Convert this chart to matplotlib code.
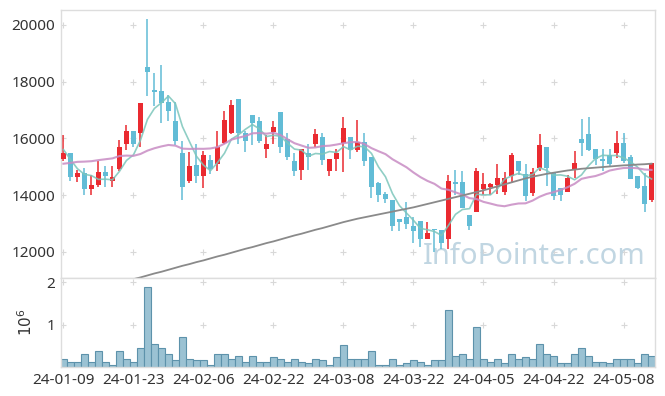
import matplotlib
matplotlib.use("Agg")
import matplotlib.pyplot as plt
import numpy as np
import pandas as pd

plt.rcParams['font.family'] = ['Noto Sans', 'DejaVu Sans']

# daily prices, 24-01-09 .. 24-05-14
opens = [15270, 15470, 14640, 14770, 14220, 14360, 14800, 14500, 14910, 15790,
         16270, 16180, 18500, 17700, 17680, 17280, 16620, 15490, 14490, 15080,
         14680, 15250, 15100, 15840, 16180, 17390, 16200, 16820, 16620, 15630,
         16240, 16930, 15990, 15190, 14890, 15470, 15790, 16060, 14840, 15260,
         15840, 16060, 15590, 15880, 15360, 14430, 14040, 13830, 13160, 13230,
         12920, 13090, 12440, 12800, 12780, 12440, 14460, 14460, 13290, 13420,
         14210, 14300, 14360, 14120, 14680, 15220, 14740, 14080, 14970, 15710,
         14770, 14250, 14120, 14910, 15990, 16170, 15610, 15290, 15420, 15470,
         15850, 15360, 14680, 14320, 13830]
highs = [16120, 15480, 14900, 14960, 14700, 15200, 15010, 15010, 15960, 16480,
         16270, 17250, 20220, 18300, 18580, 17530, 17280, 15900, 15510, 15790,
         15570, 15410, 16260, 16970, 17350, 17390, 16250, 16820, 16740, 16130,
         16620, 16930, 16190, 15470, 15630, 15790, 16340, 16190, 15290, 15610,
         16770, 16060, 16660, 16190, 15360, 14480, 14120, 13830, 13160, 13750,
         13230, 13090, 13050, 12800, 12780, 14720, 14900, 14860, 13290, 14970,
         14790, 14440, 15110, 14820, 15470, 15220, 15110, 14970, 16160, 15710,
         14770, 14250, 14710, 15560, 16690, 16750, 15610, 15610, 15610, 16260,
         16190, 15420, 14680, 14790, 15140]
lows = [15200, 14500, 14480, 13990, 13990, 14270, 14300, 14300, 14840, 15600,
        15710, 15700, 17480, 17160, 16560, 16600, 15780, 13820, 14440, 14440,
        14240, 14760, 14850, 15790, 16140, 15790, 15530, 15770, 15850, 15320,
        15790, 15490, 15240, 14680, 14540, 14890, 15690, 15060, 14670, 14860,
        14830, 15290, 15510, 15010, 13900, 13750, 13730, 12730, 12730, 12810,
        12300, 12170, 12440, 12000, 12100, 12090, 14010, 13540, 12780, 13420,
        14000, 14000, 14040, 14000, 14440, 14710, 13800, 13960, 14860, 14340,
        13820, 13800, 14120, 14600, 15380, 15570, 15060, 14860, 15030, 15310,
        15140, 14570, 14210, 13410, 13750]
closes = [15470, 14640, 14770, 14220, 14350, 14800, 14680, 14650, 15710, 16270,
          15790, 17250, 18330, 17650, 17260, 16980, 15900, 14290, 15010, 14680,
          15420, 14910, 15710, 16660, 17170, 16180, 15900, 16530, 15900, 15820,
          16410, 15710, 15340, 14840, 15630, 15360, 16170, 15240, 15290, 15470,
          16380, 15600, 15880, 15200, 14290, 14010, 13860, 12920, 13070, 12990,
          12720, 12440, 12680, 12760, 12300, 14490, 14390, 13540, 12900, 14840,
          14390, 14390, 14600, 14600, 15410, 14840, 13960, 14830, 15780, 14970,
          13980, 14010, 14600, 15150, 15830, 15600, 15260, 15190, 15090, 15850,
          15190, 14570, 14250, 13700, 15140]
# closes before the window (for the moving averages)
pre_closes = [14050, 14050, 14050, 14050, 14050, 14050, 14050, 14050,
              15960, 15960, 15960, 15960, 15960, 15960, 15960,
              16390, 16400, 15210, 14570]
# long moving average
ma_long = [10370, 10440, 10500, 10570, 10640, 10700, 10770, 10840, 10900, 10970,
           11040, 11100, 11170, 11240, 11300, 11370, 11440, 11510, 11570, 11640,
           11700, 11770, 11840, 11900, 11970, 12040, 12110, 12170, 12240, 12310,
           12370, 12440, 12510, 12580, 12640, 12710, 12780, 12840, 12910, 12980,
           13050, 13110, 13170, 13220, 13270, 13320, 13370, 13420, 13470, 13520,
           13570, 13630, 13690, 13750, 13810, 13870, 13930, 13990, 14050, 14110,
           14170, 14240, 14310, 14380, 14450, 14520, 14590, 14650, 14700, 14750,
           14790, 14830, 14870, 14900, 14930, 14950, 14970, 14990, 15010, 15030,
           15050, 15060, 15080, 15090, 15110]
volumes = [0.18, 0.13, 0.12, 0.32, 0.11, 0.39, 0.11, 0.06, 0.39, 0.20,
           0.11, 0.46, 1.89, 0.55, 0.46, 0.30, 0.16, 0.70, 0.20, 0.16,
           0.16, 0.06, 0.30, 0.32, 0.18, 0.27, 0.13, 0.27, 0.11, 0.13,
           0.23, 0.18, 0.11, 0.18, 0.11, 0.09, 0.20, 0.16, 0.06, 0.23,
           0.51, 0.20, 0.20, 0.20, 0.37, 0.06, 0.06, 0.20, 0.06, 0.09,
           0.16, 0.11, 0.06, 0.16, 0.16, 1.35, 0.27, 0.32, 0.18, 0.95,
           0.20, 0.13, 0.20, 0.09, 0.30, 0.20, 0.23, 0.18, 0.55, 0.30,
           0.25, 0.09, 0.09, 0.32, 0.44, 0.25, 0.11, 0.13, 0.09, 0.20,
           0.18, 0.18, 0.09, 0.30, 0.25]
tick_labels = ['24-01-09', '24-01-23', '24-02-06', '24-02-22', '24-03-08',
               '24-03-22', '24-04-05', '24-04-22', '24-05-08']

UP = '#ea2a30'
DOWN = '#62bcd6'

n = len(closes)
x = np.arange(n)
o = np.array(opens)
c = np.array(closes)
all_c = pd.Series(pre_closes + closes)
ma5 = all_c.rolling(5).mean().values[-n:]
ma20 = all_c.rolling(20).mean().values[-n:]

fig = plt.figure(figsize=(6.65, 3.96), dpi=100)
ax = fig.add_axes([0.0917, 0.298, 0.8933, 0.677])
axv = fig.add_axes([0.0917, 0.073, 0.8933, 0.225], sharex=ax)

colors = np.where(c >= o, UP, DOWN)
ax.vlines(x, lows, highs, colors=colors, linewidth=1.1, zorder=2)
ax.bar(x, np.maximum(np.abs(c - o), 25), bottom=np.minimum(o, c), width=0.72,
       color=colors, zorder=3)

ax.plot(x, ma5, color='#7cc6bb', lw=1.2, alpha=0.85, zorder=4)
ax.plot(x, ma20, color='#c88cc4', lw=1.5, alpha=0.85, zorder=4)
ax.plot(x, ma_long, color='#8a8a8a', lw=1.3, zorder=4)

ax.text(0.985, 0.025, 'InfoPointer.com', transform=ax.transAxes, ha='right',
        va='bottom', fontsize=21, color='#c1d6e2', zorder=1)

axv.bar(x, volumes, width=1.0, color='#9bc2d3', edgecolor='#5d92ab',
        linewidth=0.8)

ax.set_yticks([12000, 14000, 16000, 18000, 20000])
axv.set_yticks([1, 2])
axv.set_ylabel(r'$10^6$', fontsize=11, color='#333333', labelpad=8)
axv.set_xticks(range(0, n, 10))
axv.set_xticklabels(tick_labels)
plt.setp(ax.get_xticklabels(), visible=False)

for a in (ax, axv):
    a.tick_params(length=0, labelsize=11, colors='#333333', pad=4)
    for s in a.spines.values():
        s.set_color('#dddddd')
        s.set_linewidth(1.0)
    gx, gy = np.meshgrid(a.get_xticks(), a.get_yticks())
    a.scatter(gx.ravel(), gy.ravel(), marker='+', s=16, color='#d8d8d8',
              linewidths=0.8, zorder=0)
    a.set_xlim(-0.35, n - 0.5)
ax.set_ylim(11080, 20530)
axv.set_ylim(0, 2.1)

fig.savefig('out.png', dpi=100)
